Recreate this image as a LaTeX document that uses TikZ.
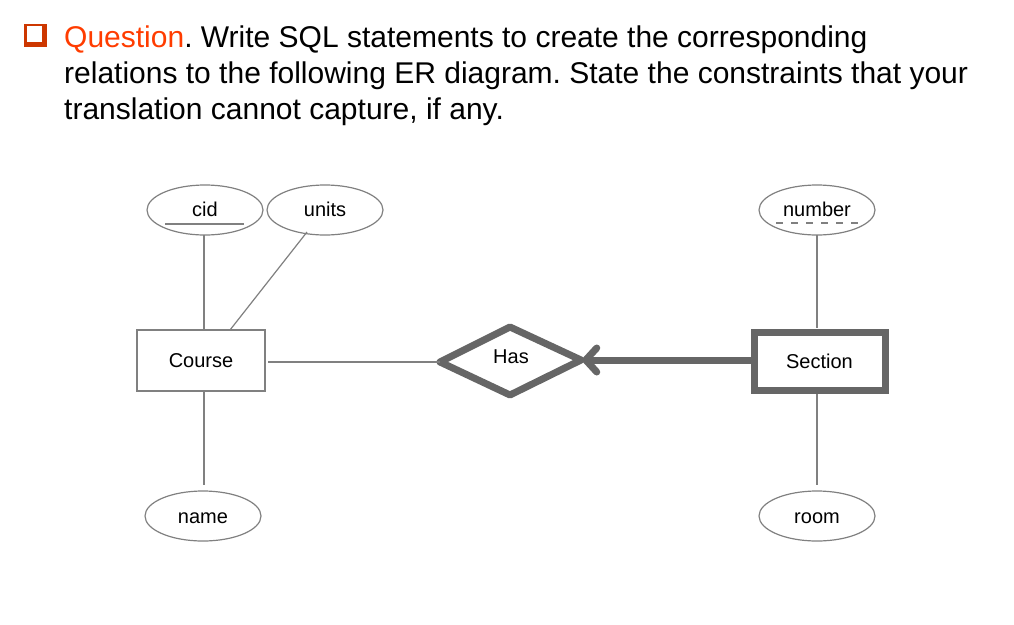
\documentclass[tikz,border=0pt]{standalone}
\usepackage{fontspec}
\setmainfont{Liberation Sans}
\usetikzlibrary{shapes.geometric,arrows.meta}
\definecolor{qred}{RGB}{255,60,0}
\definecolor{qdark}{RGB}{205,55,0}
\definecolor{gthin}{RGB}{128,128,128}
\definecolor{gthick}{RGB}{102,102,102}
\tikzset{
  lbl/.style={font=\fontsize{20}{24}\selectfont},
  attr/.style={draw=gthin, line width=1.2pt, ellipse, minimum width=116pt, minimum height=50pt, inner sep=0pt, lbl},
  ent/.style={draw=gthin, line width=1.2pt, rectangle, minimum width=128pt, minimum height=61pt, inner sep=0pt, lbl},
  wkent/.style={draw=gthick, line width=7pt, rectangle, minimum width=131pt, minimum height=58pt, inner sep=0pt, lbl},
  conn/.style={draw=gthin, line width=1.2pt},
  strong/.style={draw=gthick, line width=7pt},
}
\begin{document}
\frenchspacing
\begin{tikzpicture}[x=1pt,y=-1pt]
\useasboundingbox (0,0) rectangle (1014,624);
% checkbox icon
\fill[qdark] (24,24) rectangle (47,47);
\fill[white] (26.5,25.5) rectangle (42,41.5);
\draw[qdark, line width=0.8pt] (24.4,24.4) -- (24.4,46.6);
% title
\node[anchor=north west, inner sep=0pt, align=left, font=\fontsize{30}{36}\selectfont] (title) at (64,26)
  {\textcolor{qred}{Question}. Write SQL statements to create the corresponding\\
   relations to the following ER diagram. State the constraints that your\\
   translation cannot capture, if any.};
% attributes
\node[attr] (cid) at (205,210) {\raisebox{1pt}{cid}};
\node[attr] (units) at (325,210) {\raisebox{1pt}{units}};
\node[attr] (number) at (817,210) {\raisebox{1pt}{number}};
\node[attr] (name) at (203,516) {};
\node[lbl] (namet) at (203,518) {name};
\node[attr] (room) at (817,516) {};
\node[lbl] (roomt) at (817,518) {room};
\draw[gthin, line width=1.2pt] (165,224) -- (244,224);
\draw[gthin, line width=1.5pt, dash pattern=on 7pt off 8pt] (776,223) -- (858,223);
% entities
\node[ent] (course) at (201,360.5) {Course};
\node[wkent] (section) at (819.5,361.5) {Section};
% relationship
\coordinate (hL) at (440,362);
\coordinate (hT) at (510,327);
\coordinate (hR) at (581,360);
\coordinate (hB) at (510,395);
\draw[strong, line join=round] (hL) -- (hT) -- (hR) -- (hB) -- cycle;
\node[lbl] (has) at (511,357) {Has};
% connector end points
\coordinate (cidA) at (204,235);
\coordinate (cidB) at (204,330);
\coordinate (unitsA) at (307,232);
\coordinate (unitsB) at (230,330);
\coordinate (cE) at (268,362);
\coordinate (nameA) at (204,391);
\coordinate (nameB) at (204,485);
\coordinate (roomB) at (817,485);
\coordinate (secS) at (817,394);
\coordinate (secN) at (817,328);
\coordinate (numS) at (817,235);
\coordinate (secW) at (751,360);
% connectors
\draw[conn] (cidA) -- (cidB);
\draw[conn] (unitsA) -- (unitsB);
\draw[conn] (cE) -- (hL);
\draw[conn] (nameA) -- (nameB);
\draw[conn] (numS) -- (secN);
\draw[conn] (secS) -- (roomB);
\draw[strong, -{Straight Barb[length=11pt,width=24pt,line cap=round]}] (secW) -- (hR);
\end{tikzpicture}
\end{document}
